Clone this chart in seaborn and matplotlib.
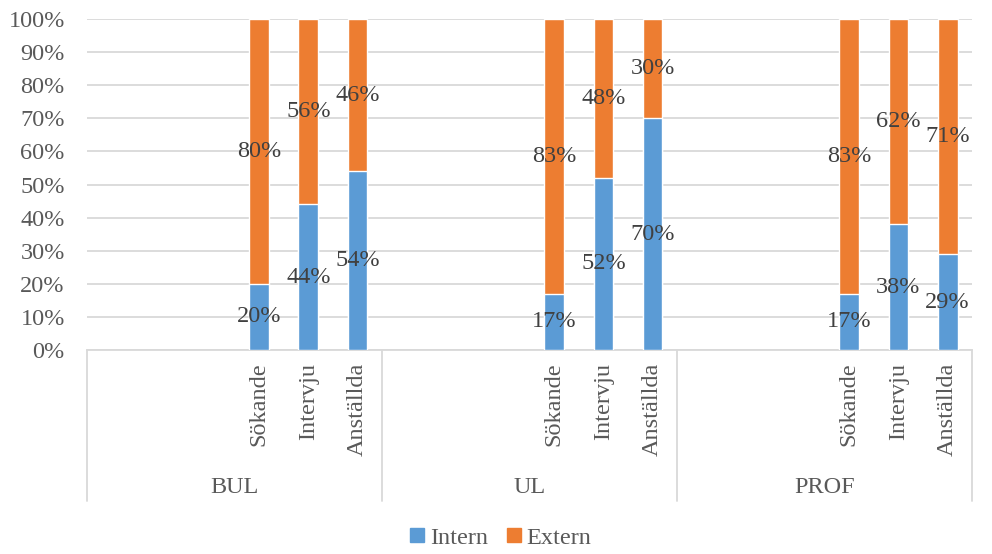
import pandas as pd
import seaborn as sns
import matplotlib.pyplot as plt
from matplotlib.patches import Patch
from matplotlib.ticker import PercentFormatter

# data
groups = ["BUL", "UL", "PROF"]
stages = ["Sökande", "Intervju", "Anställda"]
intern = [20, 44, 54, 17, 52, 70, 17, 38, 29]
extern = [80, 56, 46, 83, 48, 30, 83, 62, 71]

blue = "#5B9BD5"
orange = "#ED7D31"
grey_txt = "#595959"
grey_line = "#D9D9D9"
fs = 17.5

# each group has 6 slots, bars sit in the last 3
n_empty = 3
order, labels = [], []
for g in groups:
    for i in range(n_empty):
        order.append(f"{g}_e{i}")
        labels.append("")
    for s in stages:
        order.append(f"{g}_{s}")
        labels.append(s)

df = pd.DataFrame({
    "slot": [f"{g}_{s}" for g in groups for s in stages],
    "intern": intern,
    "extern": extern,
})
df["total"] = df["intern"] + df["extern"]

sns.set_style("white")
plt.rcParams["font.family"] = ["Liberation Serif", "DejaVu Serif"]

fig = plt.figure(figsize=(9.92, 5.54), dpi=100)
ax = fig.add_axes([0.0877, 0.3682, 0.8924, 0.5975])

sns.barplot(data=df, x="slot", y="total", order=order, color=orange,
            width=0.4, saturation=1, ax=ax, zorder=2)
sns.barplot(data=df, x="slot", y="intern", order=order, color=blue,
            width=0.4, saturation=1, ax=ax, zorder=3)

# data labels, centered on each segment
for _, r in df.iterrows():
    x = order.index(r["slot"])
    ax.text(x, r["intern"] / 2, f"{r['intern']}%", ha="center", va="center",
            fontsize=fs, color="#404040", zorder=5)
    ax.text(x, r["intern"] + r["extern"] / 2, f"{r['extern']}%", ha="center",
            va="center", fontsize=fs, color="#404040", zorder=5)

ax.set_ylim(0, 100)
ax.set_xlim(-0.5, len(order) - 0.5)
ax.set_yticks(range(0, 101, 10))
ax.yaxis.set_major_formatter(PercentFormatter(decimals=0))
ax.grid(axis="y", color=grey_line, linewidth=1.3, zorder=0)
ax.set_axisbelow(True)
ax.set_xticks(range(len(order)))
ax.set_xticklabels(labels, rotation=90, va="top", ha="center")
ax.tick_params(axis="x", length=0, pad=9, labelsize=fs, labelcolor=grey_txt)
ax.tick_params(axis="y", length=0, pad=16, labelsize=fs, labelcolor=grey_txt)
ax.set_xlabel("")
ax.set_ylabel("")
for sp in ["top", "right", "left"]:
    ax.spines[sp].set_visible(False)
ax.spines["bottom"].set_color(grey_line)
ax.spines["bottom"].set_linewidth(1.3)

# group separators and labels below the axis
trans = ax.get_xaxis_transform()
per = len(order) // len(groups)
for k in range(len(groups) + 1):
    xb = k * per - 0.5
    ax.plot([xb, xb], [0, -0.456], transform=trans, color=grey_line,
            linewidth=1.3, clip_on=False)
for k, g in enumerate(groups):
    xc = k * per + (per - 1) / 2
    ax.text(xc, -0.414, g, transform=trans, ha="center", va="center",
            fontsize=fs, color=grey_txt)

handles = [Patch(color=blue, label="Intern"), Patch(color=orange, label="Extern")]
fig.legend(handles=handles, loc="lower center", bbox_to_anchor=(0.505, -0.03),
           ncol=2, frameon=False, fontsize=fs, labelcolor=grey_txt,
           handlelength=0.55, handleheight=0.55, handletextpad=0.25, columnspacing=0.8)

fig.savefig("out.png", dpi=100)
